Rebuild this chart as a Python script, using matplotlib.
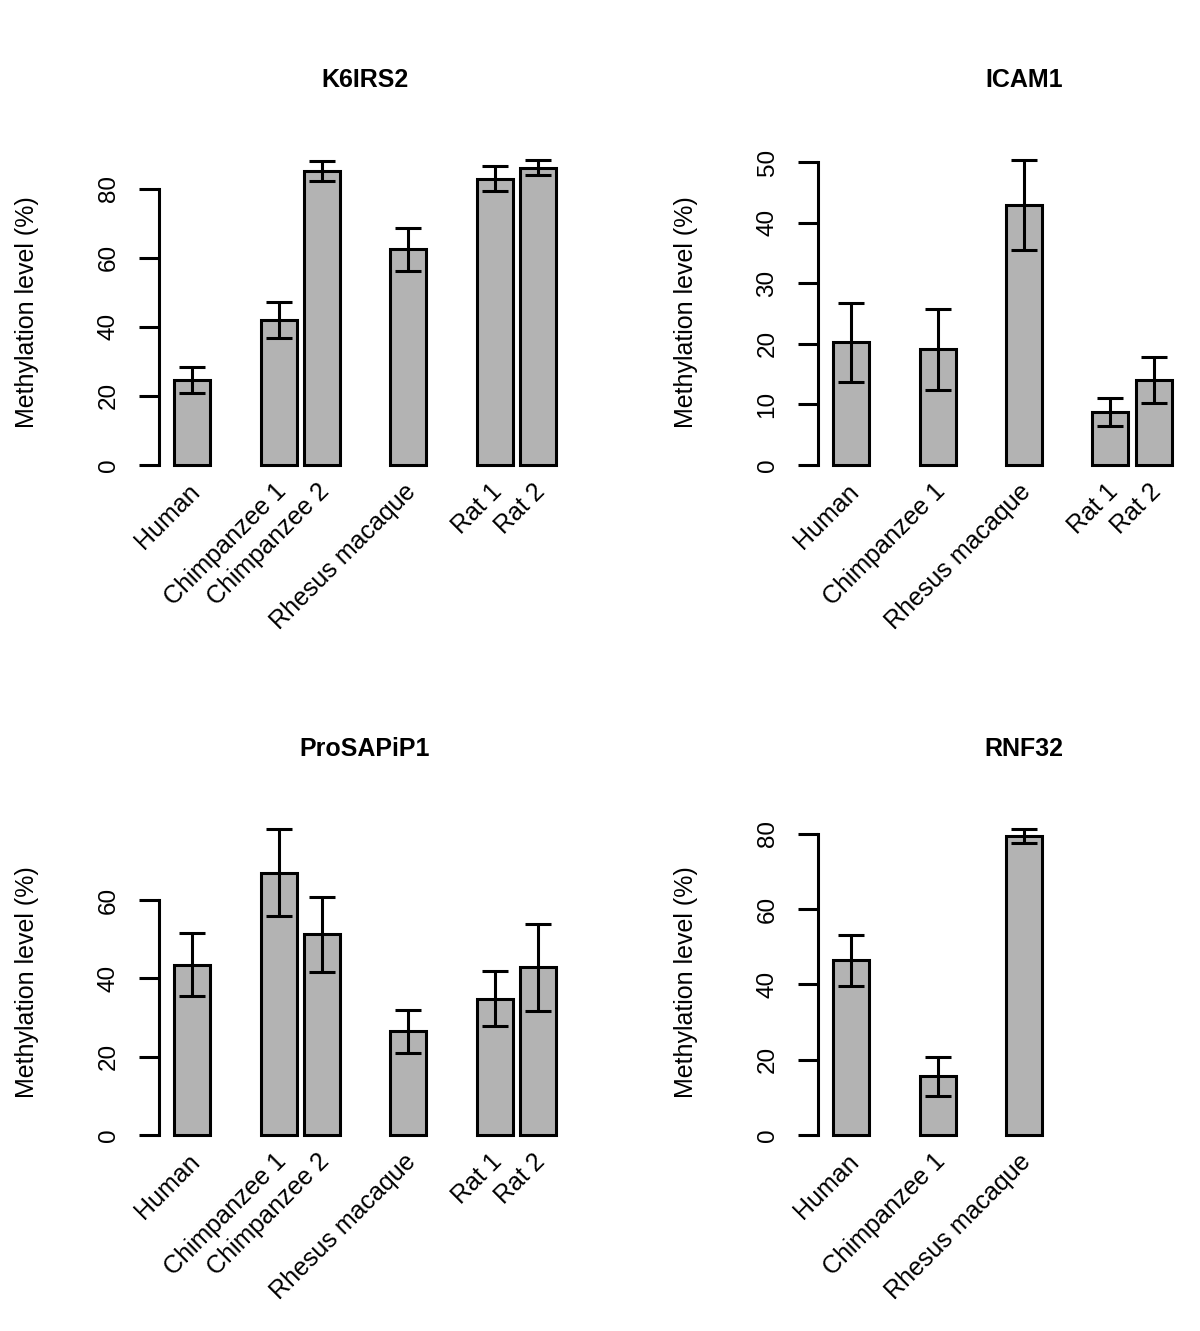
import matplotlib
matplotlib.use("Agg")
import matplotlib.pyplot as plt
from matplotlib.transforms import offset_copy

plt.rcParams['font.family'] = ['Liberation Sans', 'DejaVu Sans']

W, H = 1200, 1331
FS = 17.5
GREY = '#b3b3b3'
LW = 2.2

# --- values (mean, sd in %) ---
k6_labels = ["Human", "Chimpanzee 1", "Chimpanzee 2", "Rhesus macaque", "Rat 1", "Rat 2"]
k6_mean = [24.6, 42.0, 85.2, 62.5, 83.0, 86.2]
k6_sd = [3.85, 5.2, 2.8, 6.25, 3.55, 2.15]
k6_ticks = [0, 20, 40, 60, 80]

icam_labels = ["Human", "Chimpanzee 1", "Rhesus macaque", "Rat 1", "Rat 2"]
icam_mean = [20.2, 19.1, 42.9, 8.7, 14.0]
icam_sd = [6.6, 6.7, 7.4, 2.3, 3.85]
icam_ticks = [0, 10, 20, 30, 40, 50]

prosap_labels = ["Human", "Chimpanzee 1", "Chimpanzee 2", "Rhesus macaque", "Rat 1", "Rat 2"]
prosap_mean = [43.5, 67.0, 51.2, 26.4, 34.8, 42.8]
prosap_sd = [8.1, 11.1, 9.7, 5.45, 7.1, 11.2]
prosap_ticks = [0, 20, 40, 60]

rnf_labels = ["Human", "Chimpanzee 1", "Rhesus macaque"]
rnf_mean = [46.4, 15.5, 79.4]
rnf_sd = [6.75, 5.1, 1.8]
rnf_ticks = [0, 20, 40, 60, 80]

panels = [
    ("K6IRS2", k6_labels, k6_mean, k6_sd, k6_ticks),
    ("ICAM1", icam_labels, icam_mean, icam_sd, icam_ticks),
    ("ProSAPiP1", prosap_labels, prosap_mean, prosap_sd, prosap_ticks),
    ("RNF32", rnf_labels, rnf_mean, rnf_sd, rnf_ticks),
]


def slots(labels):
    # one empty slot between species groups, like the original barplot
    out, k, prev = [], -2, None
    for lab in labels:
        grp = lab.rsplit(" ", 1)[0] if lab[-1].isdigit() else lab
        k += 1 if grp == prev else 2
        prev = grp
        out.append(k)
    return out


fig = plt.figure(figsize=(W / 100, H / 100), dpi=100)

# plot regions in pixels: (left, top, width, height)
rects = [(159, 148, 412, 329), (818, 148, 412, 329),
         (159, 817, 412, 330), (818, 817, 412, 330)]

for (title, labels, mean, sd, ticks), (l, t, w, h) in zip(panels, rects):
    ax = fig.add_axes([l / W, 1 - (t + h) / H, w / W, h / H])
    x = [0.7 + 1.2 * s for s in slots(labels)]
    ax.bar(x, mean, width=1, color=GREY, edgecolor='black', linewidth=LW, zorder=2)
    ax.errorbar(x, mean, yerr=sd, fmt='none', ecolor='black', elinewidth=LW,
                capsize=9.5, capthick=LW, zorder=3)

    top = max(m + s for m, s in zip(mean, sd))
    ax.set_ylim(-0.04 * top, 1.04 * top)
    ax.set_xlim(-0.224, 11.224)

    for side in ('top', 'right', 'bottom'):
        ax.spines[side].set_visible(False)
    ax.spines['left'].set_linewidth(LW)
    ax.spines['left'].set_bounds(ticks[0], ticks[-1])
    ax.set_xticks([])
    ax.set_yticks(ticks)
    ax.set_yticklabels([str(v) for v in ticks], rotation=90, va='center')
    ax.tick_params(axis='y', length=14.4, width=LW, labelsize=FS, pad=14)

    tr = offset_copy(ax.transData, fig=fig, x=2.5, y=-16.5, units='points')
    for xi, lab in zip(x, labels):
        ax.text(xi, 0, lab, rotation=45, ha='right', va='center',
                rotation_mode='anchor', fontsize=18, transform=tr)

    fig.text((l + w / 2) / W, 1 - (t - 68) / H, title, ha='center', va='center',
             fontsize=18, fontweight='bold')
    fig.text((l - 132) / W, 1 - (t + h / 2) / H, "Methylation level (%)",
             rotation=90, ha='center', va='center', fontsize=18)

fig.savefig("out.png", dpi=100)
